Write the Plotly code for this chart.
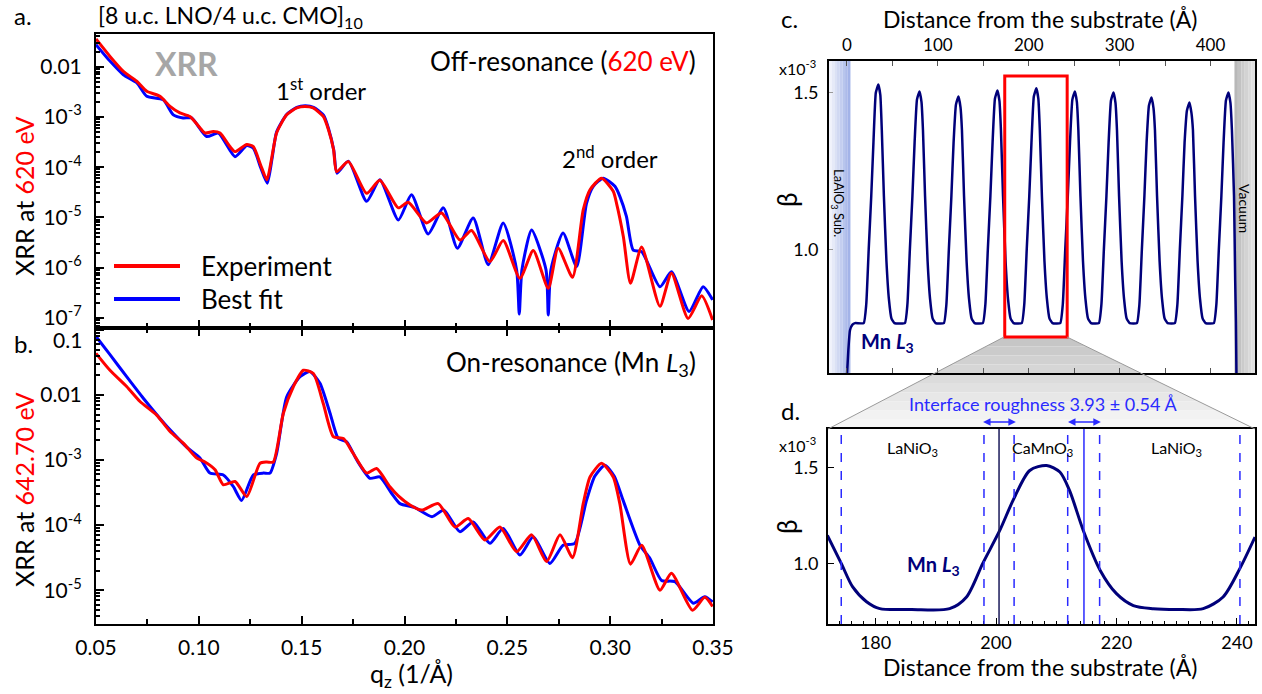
import plotly.graph_objects as go

W, H = 1262, 694
FONT = "Lato, 'Open Sans', sans-serif"
RED, BLUE, NAVY, LBLUE = "#ff0000", "#0000ff", "#00007a", "#2a2aff"

# ---------------- XRR, off-resonance (620 eV) ----------------
q_exp_620 = [0.0500, 0.0568, 0.0633, 0.0698, 0.0747, 0.0811, 0.0860, 0.0908, 0.0957, 0.1006,
             0.1030, 0.1070, 0.1103, 0.1151, 0.1176, 0.1233, 0.1265, 0.1300, 0.1331, 0.1355,
             0.1378, 0.1427, 0.1476, 0.1516, 0.1556, 0.1605, 0.1630, 0.1655, 0.1670, 0.1727,
             0.1816, 0.1880, 0.1970, 0.2018, 0.2107, 0.2180, 0.2270, 0.2326, 0.2415, 0.2480,
             0.2561, 0.2626, 0.2699, 0.2747, 0.2817, 0.2869, 0.2902, 0.2958, 0.3015, 0.3031,
             0.3064, 0.3099, 0.3153, 0.3242, 0.3298, 0.3379, 0.3445, 0.3498]
r_exp_620 = [3.56e-2, 1.60e-2, 8.07e-3, 5.13e-3, 3.24e-3, 2.57e-3, 1.62e-3, 1.20e-3, 1.02e-3, 6.03e-4,
             4.79e-4, 5.13e-4, 4.79e-4, 2.57e-4, 2.04e-4, 2.82e-4, 2.57e-4, 1.12e-4, 5.62e-5, 1.58e-4,
             4.79e-4, 1.10e-3, 1.51e-3, 1.62e-3, 1.51e-3, 1.02e-3, 5.62e-4, 2.24e-4, 8.13e-5, 1.29e-4,
             3.02e-5, 5.50e-5, 1.55e-5, 2.00e-5, 7.76e-6, 1.23e-5, 3.55e-6, 5.50e-6, 1.32e-6, 3.47e-6,
             6.17e-7, 2.19e-6, 3.89e-7, 2.45e-6, 6.46e-7, 1.41e-5, 3.55e-5, 6.03e-5, 3.31e-5, 1.91e-5,
             4.17e-6, 4.90e-7, 2.57e-6, 1.70e-7, 7.76e-7, 9.77e-8, 2.75e-7, 9.12e-8]
q_fit_620 = [0.0500, 0.0568, 0.0633, 0.0698, 0.0747, 0.0827, 0.0876, 0.0924, 0.0965, 0.1038,
             0.1095, 0.1176, 0.1233, 0.1265, 0.1300, 0.1333, 0.1357, 0.1378, 0.1427, 0.1476,
             0.1518, 0.1558, 0.1607, 0.1632, 0.1656, 0.1672, 0.1727, 0.1816, 0.1880, 0.1970,
             0.2034, 0.2115, 0.2189, 0.2257, 0.2334, 0.2407, 0.2480, 0.2545, 0.2558, 0.2571,
             0.2618, 0.2688, 0.2699, 0.2712, 0.2771, 0.2837, 0.2885, 0.2918, 0.2966, 0.3023,
             0.3047, 0.3079, 0.3112, 0.3153, 0.3242, 0.3298, 0.3384, 0.3452, 0.3498]
r_fit_620 = [2.75e-2, 1.29e-2, 6.92e-3, 4.79e-3, 2.57e-3, 2.19e-3, 1.10e-3, 9.55e-4, 9.55e-4, 4.07e-4,
             4.79e-4, 1.62e-4, 2.69e-4, 2.40e-4, 1.00e-4, 4.79e-5, 1.58e-4, 5.01e-4, 1.12e-3, 1.55e-3,
             1.66e-3, 1.55e-3, 1.07e-3, 5.60e-4, 2.20e-4, 7.59e-5, 1.32e-4, 2.09e-5, 5.62e-5, 8.91e-6,
             2.82e-5, 4.68e-6, 1.55e-5, 2.45e-6, 9.77e-6, 1.15e-6, 7.76e-6, 9.10e-7, 1.20e-7, 9.10e-7,
             5.62e-6, 9.10e-7, 1.15e-7, 9.10e-7, 4.90e-6, 1.05e-6, 1.91e-5, 4.17e-5, 6.03e-5, 4.17e-5,
             2.63e-5, 1.05e-5, 2.24e-6, 2.09e-6, 4.17e-7, 8.32e-7, 1.35e-7, 4.17e-7, 2.29e-7]

# ---------------- XRR, on-resonance (Mn L3, 642.70 eV) ----------------
q_exp_643 = [0.0500, 0.0568, 0.0649, 0.0714, 0.0795, 0.0860, 0.0924, 0.0990, 0.1030, 0.1079,
             0.1119, 0.1176, 0.1233, 0.1297, 0.1330, 0.1362, 0.1411, 0.1460, 0.1508, 0.1557,
             0.1605, 0.1654, 0.1703, 0.1751, 0.1816, 0.1864, 0.1929, 0.1970, 0.2027, 0.2083,
             0.2164, 0.2245, 0.2310, 0.2391, 0.2464, 0.2545, 0.2618, 0.2691, 0.2756, 0.2817,
             0.2869, 0.2902, 0.2958, 0.3015, 0.3047, 0.3099, 0.3153, 0.3242, 0.3298, 0.3400,
             0.3460, 0.3498]
r_exp_643 = [4.37e-2, 2.40e-2, 1.35e-2, 7.94e-3, 4.90e-3, 2.75e-3, 1.82e-3, 1.07e-3, 9.33e-4, 7.08e-4,
             4.17e-4, 4.68e-4, 2.75e-4, 8.91e-4, 9.33e-4, 9.33e-4, 5.25e-3, 1.35e-2, 2.40e-2, 2.14e-2,
             7.41e-3, 2.29e-3, 2.14e-3, 1.26e-3, 6.31e-4, 7.41e-4, 3.89e-4, 2.82e-4, 2.04e-4, 1.70e-4,
             2.14e-4, 9.33e-5, 1.26e-4, 5.89e-5, 9.33e-5, 3.89e-5, 7.08e-5, 2.75e-5, 7.08e-5, 3.16e-5,
             2.14e-4, 5.50e-4, 8.91e-4, 5.50e-4, 2.14e-4, 2.51e-5, 4.90e-5, 1.00e-5, 1.82e-5, 4.90e-6,
             7.76e-6, 5.62e-6]
q_fit_643 = [0.0500, 0.0568, 0.0649, 0.0730, 0.0811, 0.0876, 0.0941, 0.1006, 0.1054, 0.1119,
             0.1168, 0.1208, 0.1265, 0.1314, 0.1346, 0.1378, 0.1427, 0.1492, 0.1540, 0.1589,
             0.1638, 0.1678, 0.1719, 0.1768, 0.1832, 0.1880, 0.1937, 0.1978, 0.2051, 0.2134,
             0.2192, 0.2269, 0.2334, 0.2415, 0.2480, 0.2561, 0.2626, 0.2707, 0.2771, 0.2828,
             0.2885, 0.2925, 0.2974, 0.3020, 0.3063, 0.3145, 0.3193, 0.3250, 0.3315, 0.3404,
             0.3460, 0.3498]
r_fit_643 = [7.94e-2, 4.17e-2, 1.91e-2, 8.91e-3, 4.37e-3, 2.57e-3, 1.58e-3, 1.07e-3, 6.31e-4, 5.89e-4,
             3.89e-4, 2.40e-4, 5.89e-4, 6.31e-4, 6.31e-4, 1.26e-3, 9.33e-3, 1.91e-2, 2.29e-2, 1.51e-2,
             5.25e-3, 2.14e-3, 1.91e-3, 1.00e-3, 5.25e-4, 5.50e-4, 3.09e-4, 2.14e-4, 1.86e-4, 1.35e-4,
             1.70e-4, 7.94e-5, 1.12e-4, 5.25e-5, 8.91e-5, 3.47e-5, 6.61e-5, 2.57e-5, 4.90e-5, 5.25e-5,
             2.40e-4, 5.62e-4, 8.32e-4, 5.62e-4, 2.40e-4, 4.90e-5, 3.09e-5, 1.41e-5, 1.35e-5, 6.31e-6,
             7.94e-6, 6.61e-6]

# ---------------- beta depth profile at Mn L3 (units of 1e-3) ----------------
z_profile = [0.0, 1.5, 3.3, 6.0, 8.8,
             18.4, 21.2, 23.9, 26.7, 29.1, 31.7, 34.5, 36.7, 38.3, 40.6, 43.4, 46.1, 48.9, 52.2,
             63.7, 66.5, 69.2, 72.0, 74.4, 77.0, 79.8, 82.0, 83.6, 85.9, 88.7, 91.4, 94.2, 97.5,
             106.6, 109.4, 112.1, 114.9, 117.3, 119.9, 122.7, 124.9, 126.5, 128.8, 131.6, 134.3, 137.1, 140.4,
             149.5, 152.3, 155.0, 157.8, 160.2, 162.8, 165.6, 167.8, 169.4, 171.7, 174.5, 177.2, 180.0, 183.3,
             192.3, 195.1, 197.8, 200.6, 203.0, 205.6, 208.4, 210.6, 212.2, 214.5, 217.3, 220.0, 222.8, 226.1,
             234.7, 237.5, 240.2, 243.0, 245.4, 248.0, 250.8, 253.0, 254.6, 256.9, 259.7, 262.4, 265.2, 268.5,
             277.2, 280.0, 282.7, 285.5, 287.9, 290.5, 293.3, 295.5, 297.1, 299.4, 302.2, 304.9, 307.7, 311.0,
             319.0, 321.8, 324.5, 327.3, 329.7, 332.3, 335.1, 337.3, 338.9, 341.2, 344.0, 346.7, 349.5, 352.8,
             360.8, 363.6, 366.3, 369.1, 371.5, 374.1, 376.9, 379.1, 380.7, 383.0, 385.8, 388.5, 391.3, 394.6,
             403.7, 406.5, 409.2, 412.0, 414.4, 417.0, 419.8, 422.0, 423.6, 425.9, 427.2, 428.0, 428.6]
beta_profile = [0.600, 0.680, 0.742, 0.760, 0.765,
                0.765, 0.825, 1.00, 1.17, 1.34, 1.499, 1.525, 1.491, 1.38, 1.17, 0.963, 0.842, 0.780, 0.765,
                0.765, 0.825, 1.00, 1.17, 1.34, 1.477, 1.503, 1.469, 1.38, 1.17, 0.963, 0.842, 0.780, 0.765,
                0.765, 0.825, 1.00, 1.17, 1.34, 1.461, 1.487, 1.453, 1.38, 1.17, 0.963, 0.842, 0.780, 0.765,
                0.765, 0.825, 1.00, 1.17, 1.34, 1.480, 1.506, 1.472, 1.38, 1.17, 0.963, 0.842, 0.780, 0.765,
                0.765, 0.825, 1.00, 1.17, 1.34, 1.487, 1.513, 1.479, 1.38, 1.17, 0.963, 0.842, 0.780, 0.765,
                0.765, 0.825, 1.00, 1.17, 1.34, 1.477, 1.503, 1.469, 1.38, 1.17, 0.963, 0.842, 0.780, 0.765,
                0.765, 0.825, 1.00, 1.17, 1.34, 1.474, 1.500, 1.466, 1.38, 1.17, 0.963, 0.842, 0.780, 0.765,
                0.765, 0.825, 1.00, 1.17, 1.34, 1.458, 1.484, 1.450, 1.38, 1.17, 0.963, 0.842, 0.780, 0.765,
                0.765, 0.825, 1.00, 1.17, 1.34, 1.442, 1.468, 1.434, 1.38, 1.17, 0.963, 0.842, 0.780, 0.765,
                0.765, 0.825, 1.00, 1.17, 1.34, 1.474, 1.500, 1.466, 1.38, 1.17, 0.900, 0.770, 0.600]

# one bilayer period, around the fifth CaMnO3 layer
z_zoom = [172.0, 174.3, 176.2, 178.5, 180.7, 186.0, 192.3, 195.1, 197.8, 200.6, 203.0, 205.6, 208.4,
          210.6, 212.2, 214.5, 217.3, 220.0, 222.8, 226.1, 230.0, 234.4, 237.7, 240.5, 243.0]
beta_zoom = [1.146, 1.000, 0.877, 0.800, 0.764, 0.760, 0.764, 0.825, 1.000, 1.170, 1.340, 1.484, 1.510,
             1.476, 1.380, 1.170, 0.963, 0.842, 0.780, 0.764, 0.760, 0.764, 0.825, 0.974, 1.137]

interfaces = [200.5, 214.6]
roughness_marks = [174.3, 198.0, 203.0, 211.9, 217.2, 240.5]
roughness_arrows = [(197.6, 203.3), (211.7, 217.4)]

# y tick labels of the reflectivity axes ("0.1" of panel b is placed separately)
ticks_a = [1e-2, 1e-3, 1e-4, 1e-5, 1e-6, 1e-7]
labels_a = ["0.01", "10<sup>-3</sup>", "10<sup>-4</sup>", "10<sup>-5</sup>", "10<sup>-6</sup>", "10<sup>-7</sup>"]
ticks_b = [1e-1, 1e-2, 1e-3, 1e-4, 1e-5]
labels_b = ["", "0.01", "10<sup>-3</sup>", "10<sup>-4</sup>", "10<sup>-5</sup>"]


def px(x):
    return x / W


def py(y):
    return 1 - y / H


fig = go.Figure()

spl = dict(shape="spline", smoothing=0.6)
fig.add_trace(go.Scatter(x=q_fit_620, y=r_fit_620, mode="lines", name="Best fit",
                         line=dict(color=BLUE, width=3, **spl), xaxis="x", yaxis="y"))
fig.add_trace(go.Scatter(x=q_exp_620, y=r_exp_620, mode="lines", name="Experiment",
                         line=dict(color=RED, width=3, **spl), xaxis="x", yaxis="y"))
fig.add_trace(go.Scatter(x=q_fit_643, y=r_fit_643, mode="lines", name="Best fit",
                         line=dict(color=BLUE, width=3, **spl), xaxis="x2", yaxis="y2"))
fig.add_trace(go.Scatter(x=q_exp_643, y=r_exp_643, mode="lines", name="Experiment",
                         line=dict(color=RED, width=3, **spl), xaxis="x2", yaxis="y2"))
fig.add_trace(go.Scatter(x=z_profile, y=beta_profile, mode="lines",
                         line=dict(color=NAVY, width=2.5, shape="spline", smoothing=0.4),
                         xaxis="x3", yaxis="y3"))
fig.add_trace(go.Scatter(x=z_zoom, y=beta_zoom, mode="lines",
                         line=dict(color=NAVY, width=3, shape="spline", smoothing=0.8),
                         xaxis="x4", yaxis="y4"))

axis_common = dict(showline=True, linecolor="black", linewidth=2, showgrid=False, zeroline=False,
                   automargin=False, tickcolor="black",
                   tickfont=dict(family=FONT, size=21, color="black"))

minor_a = [m * 10.0 ** e for e in range(-8, -1) for m in range(2, 10)]
minor_b = [m * 10.0 ** e for e in range(-6, 0) for m in range(2, 10)]
small = dict(family=FONT, size=18, color="black")

fig.update_layout(
    width=W, height=H, margin=dict(l=0, r=0, t=0, b=0, autoexpand=False),
    paper_bgcolor="white", plot_bgcolor="rgba(0,0,0,0)",
    showlegend=False, font=dict(family=FONT, color="black"),
    xaxis=dict(axis_common, domain=[px(96), px(713)], range=[0.05, 0.35], anchor="y",
               matches="x2", showticklabels=False, ticks="inside", ticklen=8, tickwidth=1.5,
               tick0=0.05, dtick=0.05, mirror=True,
               minor=dict(ticks="inside", ticklen=5, dtick=0.025, tick0=0.05, tickcolor="black")),
    yaxis=dict(axis_common, domain=[py(328), py(34)], type="log", range=[-7.2, -1.35], anchor="x",
               tickmode="array", tickvals=ticks_a, ticktext=labels_a, ticks="inside", ticklen=8,
               tickwidth=1.5, mirror=True, ticklabelstandoff=8,
               minor=dict(tickmode="array", tickvals=minor_a, ticks="inside", ticklen=4,
                          tickcolor="black")),
    xaxis2=dict(axis_common, domain=[px(96), px(713)], range=[0.05, 0.35], anchor="y2",
                ticks="inside", ticklen=8, tickwidth=1.5, tick0=0.05, dtick=0.05, tickformat=".2f",
                mirror="ticks", ticklabelstandoff=4,
                minor=dict(ticks="inside", ticklen=5, dtick=0.025, tick0=0.05, tickcolor="black")),
    yaxis2=dict(axis_common, domain=[py(624), py(328)], type="log", range=[-5.52, -0.97], anchor="x2",
                tickmode="array", tickvals=ticks_b, ticktext=labels_b, ticks="inside", ticklen=8,
                tickwidth=1.5, mirror=True, ticklabelstandoff=8,
                minor=dict(tickmode="array", tickvals=minor_b, ticks="inside", ticklen=4,
                           tickcolor="black")),
    xaxis3=dict(axis_common, domain=[px(829), px(1255)], range=[-19.8, 449], anchor="y3", side="top",
                tickmode="array", tickvals=[0, 50, 100, 150, 200, 250, 300, 350, 400],
                ticktext=["0", "", "100", "", "200", "", "300", "", "400"],
                ticks="inside", ticklen=5, tickcolor="#555555", mirror="ticks",
                ticklabelstandoff=1, tickfont=dict(family=FONT, size=17, color="black")),
    yaxis3=dict(axis_common, domain=[py(373), py(61)], range=[0.606, 1.60], anchor="x3",
                tickmode="array", tickvals=[1.0, 1.5], ticktext=["1.0", "1.5"],
                ticks="inside", ticklen=4, tickcolor="#999999", mirror=True,
                ticklabelstandoff=5, tickfont=small),
    xaxis4=dict(axis_common, domain=[px(828), px(1255)], range=[172.1, 243.0], anchor="y4",
                tickmode="array", tickvals=[180, 200, 220, 240], ticks="inside", ticklen=6,
                mirror=True, ticklabelstandoff=1, tickfont=small,
                minor=dict(ticks="inside", ticklen=3, dtick=2, tick0=172, tickcolor="black")),
    yaxis4=dict(axis_common, domain=[py(624), py(429)], range=[0.684, 1.70], anchor="x4",
                tickmode="array", tickvals=[1.0, 1.5], ticktext=["1.0", "1.5"],
                ticks="inside", ticklen=6, mirror=True, ticklabelstandoff=4, tickfont=small),
)

shapes = []

# substrate and vacuum bands of the depth profile
sub_cols = ["#f1f3fb", "#e6eaf8", "#dbe1f5", "#d0d8f2", "#c4cef0", "#b8c5ed", "#adbbea", "#a3b3e8"]
edges = [-19.8 + i * (3.8 + 19.8) / len(sub_cols) for i in range(len(sub_cols) + 1)]
for c, a, b in zip(sub_cols, edges[:-1], edges[1:]):
    shapes.append(dict(type="rect", xref="x3", yref="y3 domain", x0=a, x1=b, y0=0, y1=1,
                       fillcolor=c, line=dict(width=0), layer="below"))
vac_cols = ["#b8b8b8", "#c2c2c2", "#cbcbcb", "#d3d3d3", "#dadada", "#e0e0e0"]
edges = [426.4 + i * (449 - 426.4) / len(vac_cols) for i in range(len(vac_cols) + 1)]
for c, a, b in zip(vac_cols, edges[:-1], edges[1:]):
    shapes.append(dict(type="rect", xref="x3", yref="y3 domain", x0=a, x1=b, y0=0, y1=1,
                       fillcolor=c, line=dict(width=0), layer="below"))

# zoom box and the funnel down to panel d
shapes.append(dict(type="rect", xref="x3", yref="y3", x0=173.6, x1=242.3, y0=0.721, y1=1.552,
                   line=dict(color=RED, width=3), fillcolor="rgba(0,0,0,0)"))
top_l, top_r, bot_l, bot_r, y_top, y_bot = 1004, 1067, 828, 1255, 337, 429
n_band = 10
funnel_cols = ["#c6c6c6", "#cbcbcb", "#d1d1d1", "#d6d6d6", "#dcdcdc",
               "#e1e1e1", "#e7e7e7", "#ececec", "#f2f2f2", "#f7f7f7"]
for i in range(n_band):
    t0, t1 = i / n_band, (i + 1) / n_band
    ya, yb = y_top + (y_bot - y_top) * t0, y_top + (y_bot - y_top) * t1
    la, lb = top_l + (bot_l - top_l) * t0, top_l + (bot_l - top_l) * t1
    ra, rb = top_r + (bot_r - top_r) * t0, top_r + (bot_r - top_r) * t1
    path = (f"M {px(la)} {py(ya)} L {px(ra)} {py(ya)} L {px(rb)} {py(yb)} "
            f"L {px(lb)} {py(yb)} Z")
    shapes.append(dict(type="path", xref="paper", yref="paper", path=path,
                       fillcolor=funnel_cols[i], line=dict(width=0), layer="below"))
for (xa, xb) in [(top_l, bot_l), (top_r, bot_r)]:
    shapes.append(dict(type="line", xref="paper", yref="paper", x0=px(xa), y0=py(y_top),
                       x1=px(xb), y1=py(y_bot), line=dict(color="#9a9a9a", width=1)))

# interfaces and roughness widths in panel d
for z in roughness_marks:
    shapes.append(dict(type="line", xref="x4", yref="y4 domain", x0=z, x1=z, y0=0, y1=1,
                       line=dict(color=LBLUE, width=1.5, dash="dash")))
for z, col in zip(interfaces, ["#1a1a5a", LBLUE]):
    shapes.append(dict(type="line", xref="x4", yref="y4 domain", x0=z, x1=z, y0=0, y1=1,
                       line=dict(color=col, width=1.5)))

# legend keys
shapes.append(dict(type="line", xref="paper", yref="paper", x0=px(114), x1=px(180),
                   y0=py(266), y1=py(266), line=dict(color=RED, width=4)))
shapes.append(dict(type="line", xref="paper", yref="paper", x0=px(114), x1=px(180),
                   y0=py(299), y1=py(299), line=dict(color=BLUE, width=4)))
fig.update_layout(shapes=shapes)

ann = []


def text(x, y, s, size, xanchor="center", color="black", angle=0, **kw):
    ann.append(dict(x=px(x), y=py(y), xref="paper", yref="paper", text=s, showarrow=False,
                    xanchor=xanchor, yanchor="middle", textangle=angle,
                    font=dict(family=FONT, size=size, color=color), **kw))


text(12, 16, "a.", 24, "left")
text(12, 343, "b.", 24, "left")
text(779, 18, "c.", 24, "left")
text(779, 410, "d.", 24, "left")
text(96, 17, "[8 u.c. LNO/4 u.c. CMO]<sub>10</sub>", 23, "left")
text(186, 63, "<b>XRR</b>", 32, color="#a6a6a6")
text(321, 89, "1<sup>st</sup> order", 24)
text(610, 157, "2<sup>nd</sup> order", 24)
text(698, 61, "Off-resonance (<span style='color:#ff0000'>620 eV</span>)", 26, "right")
text(698, 363, "On-resonance (Mn <i>L</i><sub>3</sub>)", 26, "right")
text(199, 266, "Experiment", 26, "left")
text(199, 299, "Best fit", 26, "left")
text(24, 196, "XRR at <span style='color:#ff0000'>620 eV</span>", 25, angle=-90)
text(24, 490, "XRR at <span style='color:#ff0000'>642.70 eV</span>", 25, angle=-90)
text(411, 675, "q<sub>z</sub> (1/Å)", 25)
text(84, 339, "0.1", 21, "right")

text(1040, 19, "Distance from the substrate (Å)", 23)
text(1040, 667, "Distance from the substrate (Å)", 23)
text(787, 200, "β", 26, angle=-90)
text(787, 527, "β", 26, angle=-90)
text(818, 67, "x10<sup>-3</sup>", 16, "right")
text(818, 444, "x10<sup>-3</sup>", 16, "right")
text(838, 203, "LaAlO<sub>3</sub> Sub.", 13, angle=90)
text(1244, 208, "Vacuum", 14, angle=90)
text(887, 342, "<b>Mn <i>L</i><sub>3</sub></b>", 20, color=NAVY)
text(934, 565, "<b>Mn <i>L</i><sub>3</sub></b>", 20, color=NAVY)
text(912, 448, "LaNiO<sub>3</sub>", 16)
text(1042, 448, "CaMnO<sub>3</sub>", 16)
text(1176, 448, "LaNiO<sub>3</sub>", 16)
text(1043, 404, "Interface roughness 3.93 ± 0.54 Å", 18, color=LBLUE)

for a, b in roughness_arrows:
    ann.append(dict(x=b, y=py(422), xref="x4", yref="paper", ax=a, ay=0, axref="x4", ayref="pixel",
                    text="", showarrow=True, arrowside="end+start", arrowhead=2, arrowsize=1,
                    arrowwidth=1.5, arrowcolor=LBLUE))

fig.update_layout(annotations=ann)
fig.write_html("out.html")
